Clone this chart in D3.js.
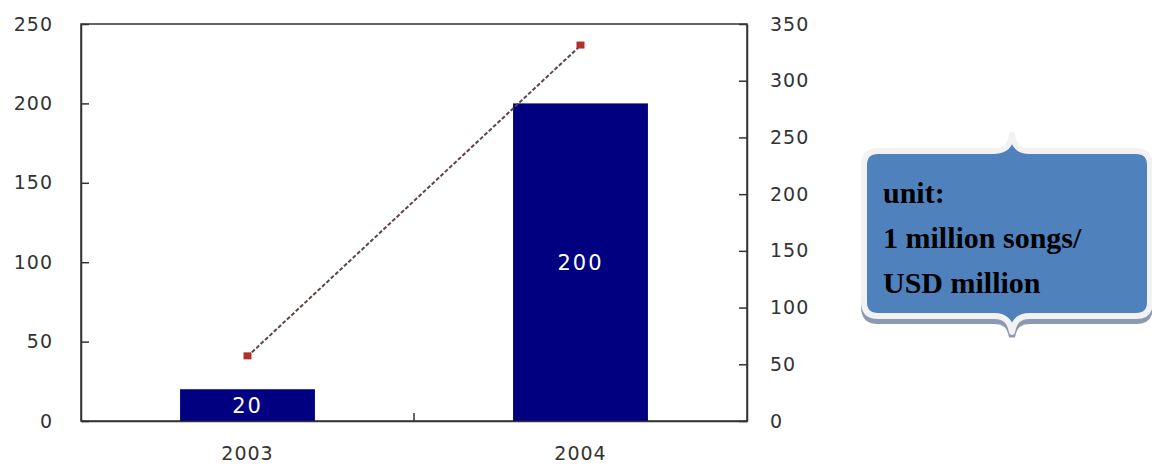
<!DOCTYPE html>
<html>
<head>
<meta charset="utf-8">
<script src="https://cdn.jsdelivr.net/npm/d3@7"></script>
<style>
  html, body { margin: 0; padding: 0; background: #ffffff; }
  svg { display: block; }
  .tick text { font-family: "DejaVu Sans", sans-serif; fill: #333; }
</style>
</head>
<body>
<svg id="chart" width="1152" height="466"></svg>
<script>
// Yearly figures: bars use the left axis, the line uses the right axis
const years = ["2003", "2004"];
const barValues = [20, 200];
const lineValues = [57, 331];
const leftTicks = [0, 50, 100, 150, 200, 250];
const rightTicks = [0, 50, 100, 150, 200, 250, 300, 350];
const unitLines = ["unit:", "1 million songs/", "USD million"];

const svg = d3.select("#chart");
const plot = { left: 81, right: 747, top: 24, bottom: 421 };

const x = d3.scaleBand()
  .domain(years)
  .range([plot.left, plot.right])
  .paddingInner(0.595)
  .paddingOuter(0.2975);

const yLeft = d3.scaleLinear().domain([0, 250]).range([plot.bottom, plot.top]);
const yRight = d3.scaleLinear().domain([0, 350]).range([plot.bottom, plot.top]);

// frame
svg.append("rect")
  .attr("x", plot.left).attr("y", plot.top)
  .attr("width", plot.right - plot.left).attr("height", plot.bottom - plot.top)
  .attr("fill", "none").attr("stroke", "#333").attr("stroke-width", 1.5);

// bars
svg.append("g").selectAll("rect")
  .data(years)
  .join("rect")
  .attr("x", d => x(d))
  .attr("y", (d, i) => yLeft(barValues[i]))
  .attr("width", x.bandwidth())
  .attr("height", (d, i) => plot.bottom - yLeft(barValues[i]))
  .attr("fill", "#000080");

// bar value labels
svg.append("g").selectAll("text")
  .data(years)
  .join("text")
  .attr("x", d => x(d) + x.bandwidth() / 2)
  .attr("y", (d, i) => (yLeft(barValues[i]) + plot.bottom) / 2)
  .attr("dy", "0.36em")
  .attr("text-anchor", "middle")
  .attr("font-family", "DejaVu Sans, sans-serif")
  .attr("font-size", 21)
  .attr("letter-spacing", 2)
  .attr("fill", "#ffffff")
  .text((d, i) => barValues[i]);

// left axis
const gL = svg.append("g")
  .attr("transform", `translate(${plot.left},0)`)
  .call(d3.axisLeft(yLeft).tickValues(leftTicks).tickSizeInner(-8).tickSizeOuter(0).tickPadding(28));
gL.select(".domain").attr("stroke", "#333").attr("stroke-width", 1.5);
gL.selectAll(".tick line").attr("stroke", "#333").attr("stroke-width", 1.5);
gL.selectAll(".tick text").attr("font-size", 19).attr("letter-spacing", 1);

// right axis
const gR = svg.append("g")
  .attr("transform", `translate(${plot.right},0)`)
  .call(d3.axisRight(yRight).tickValues(rightTicks).tickSizeInner(-8).tickSizeOuter(0).tickPadding(23));
gR.select(".domain").attr("stroke", "#333").attr("stroke-width", 1.5);
gR.selectAll(".tick line").attr("stroke", "#333").attr("stroke-width", 1.5);
gR.selectAll(".tick text").attr("font-size", 19).attr("letter-spacing", 1);

// bottom axis: labels under bars, a single divider tick between categories
const gB = svg.append("g")
  .attr("transform", `translate(0,${plot.bottom})`)
  .call(d3.axisBottom(x).tickSize(0).tickPadding(26));
gB.select(".domain").attr("stroke", "#333").attr("stroke-width", 1.5);
gB.selectAll(".tick text").attr("font-size", 19).attr("letter-spacing", 1);
svg.append("line")
  .attr("x1", (x(years[0]) + x.bandwidth() + x(years[1])) / 2)
  .attr("x2", (x(years[0]) + x.bandwidth() + x(years[1])) / 2)
  .attr("y1", plot.bottom).attr("y2", plot.bottom - 8)
  .attr("stroke", "#333").attr("stroke-width", 1.5);

// line series
const line = d3.line()
  .x((d, i) => x(years[i]) + x.bandwidth() / 2)
  .y(d => yRight(d));
svg.append("path")
  .datum(lineValues)
  .attr("d", line)
  .attr("fill", "none")
  .attr("stroke", "#5e4646")
  .attr("stroke-width", 2)
  .attr("stroke-dasharray", "4,2");
svg.append("g").selectAll("rect")
  .data(lineValues)
  .join("rect")
  .attr("x", (d, i) => x(years[i]) + x.bandwidth() / 2 - 4)
  .attr("y", d => yRight(d) - 4)
  .attr("width", 8).attr("height", 7)
  .attr("fill", "#b0302c");

// unit callout with brace-shaped top and bottom
function calloutPath(x0, y0, x1, y1, r, cx, tip) {
  const p = d3.path();
  p.moveTo(x0 + r, y0);
  p.lineTo(cx - 18, y0);
  p.bezierCurveTo(cx - 6, y0, cx - 2, y0 - 6, cx, y0 - tip);
  p.bezierCurveTo(cx + 2, y0 - 6, cx + 6, y0, cx + 18, y0);
  p.lineTo(x1 - r, y0);
  p.quadraticCurveTo(x1, y0, x1, y0 + r);
  p.lineTo(x1, y1 - r);
  p.quadraticCurveTo(x1, y1, x1 - r, y1);
  p.lineTo(cx + 18, y1);
  p.bezierCurveTo(cx + 6, y1, cx + 2, y1 + 6, cx, y1 + tip);
  p.bezierCurveTo(cx - 2, y1 + 6, cx - 6, y1, cx - 18, y1);
  p.lineTo(x0 + r, y1);
  p.quadraticCurveTo(x0, y1, x0, y1 - r);
  p.lineTo(x0, y0 + r);
  p.quadraticCurveTo(x0, y0, x0 + r, y0);
  p.closePath();
  return p.toString();
}
const box = calloutPath(864, 151, 1150, 316, 14, 1012, 16);
svg.append("path").attr("d", box)
  .attr("transform", "translate(0,5)")
  .attr("fill", "#8b9ab1").attr("stroke", "#8b9ab1").attr("stroke-width", 6);
svg.append("path").attr("d", box)
  .attr("fill", "#4f81bd").attr("stroke", "#f2f2f2").attr("stroke-width", 6)
  .attr("stroke-linejoin", "round");
svg.append("g").selectAll("text")
  .data(unitLines)
  .join("text")
  .attr("x", 883)
  .attr("y", (d, i) => 203 + i * 45)
  .attr("font-family", "Liberation Serif, Times New Roman, serif")
  .attr("font-weight", "bold")
  .attr("font-size", 30)
  .attr("fill", "#000")
  .text(d => d);
</script>
</body>
</html>
